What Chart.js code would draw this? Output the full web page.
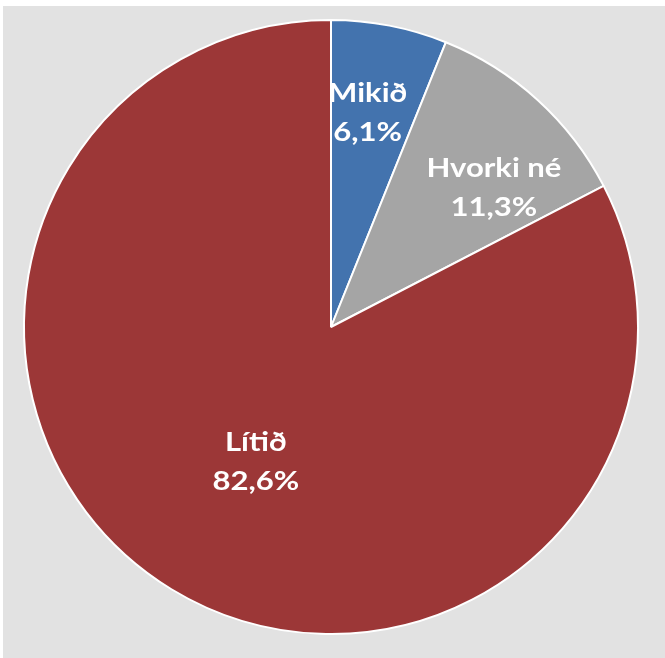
<!DOCTYPE html>
<html>
<head>
<meta charset="utf-8">
<script src="https://cdn.jsdelivr.net/npm/chart.js@4/dist/chart.umd.min.js"></script>
<style>
  html, body { margin: 0; padding: 0; background: #fff; }
  .wrap { position: absolute; left: 3px; top: 6px; width: 662px; height: 652px; background: #e2e2e2; }
</style>
</head>
<body>
<div class="wrap"><canvas id="pie" width="662" height="652"></canvas></div>
<script>
const categories = ["Mikið", "Hvorki né", "Lítið"];
const shares = [6.1, 11.3, 82.6];
const percentLabels = ["6,1%", "11,3%", "82,6%"];

const sliceColors = ["#4373ae", "#a5a5a5", "#9c3737"];
// where each label sits: fraction of the radius, and a small angle nudge in degrees
const labelRadius = [0.71, 0.70, 0.5];
const labelNudge = [-1.3, 7, -2];

const sliceLabels = {
  id: "sliceLabels",
  afterDatasetsDraw(chart) {
    const { ctx } = chart;
    const arcs = chart.getDatasetMeta(0).data;
    ctx.save();
    ctx.fillStyle = "#fff";
    ctx.font = "bold 27px Lato";
    ctx.textAlign = "center";
    ctx.textBaseline = "middle";
    arcs.forEach((arc, i) => {
      const mid = (arc.startAngle + arc.endAngle) / 2 + labelNudge[i] * Math.PI / 180;
      const r = arc.outerRadius * labelRadius[i];
      const x = arc.x + Math.cos(mid) * r;
      const y = arc.y + Math.sin(mid) * r;
      // the original labels are a bit wider than Lato, stretch them
      ctx.save();
      ctx.translate(x, y);
      ctx.scale(1.15, 1);
      ctx.fillText(categories[i], 0, -19);
      ctx.fillText(percentLabels[i], 0, 20);
      ctx.restore();
    });
    ctx.restore();
  },
};

new Chart(document.getElementById("pie"), {
  type: "pie",
  data: {
    labels: categories,
    datasets: [
      {
        data: shares,
        backgroundColor: sliceColors,
        borderColor: "#ffffff",
        borderWidth: 2,
      },
    ],
  },
  options: {
    responsive: false,
    animation: false,
    layout: { padding: { left: 20, top: 13, right: 26, bottom: 23 } },
    plugins: {
      legend: { display: false },
      tooltip: { enabled: false },
    },
  },
  plugins: [sliceLabels],
});
</script>
</body>
</html>
